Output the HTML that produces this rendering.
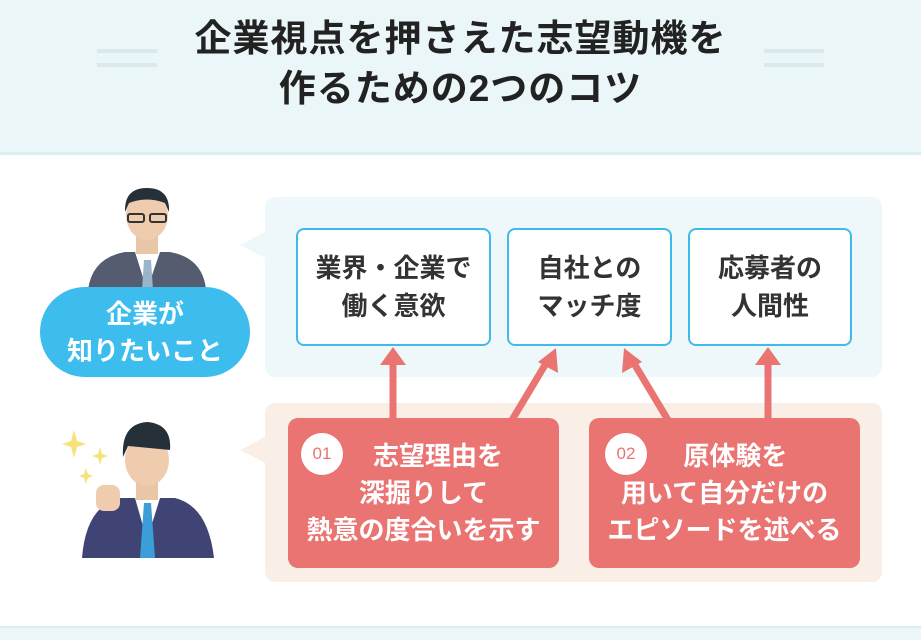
<!DOCTYPE html>
<html><head><meta charset="utf-8"><style>
body{margin:0;width:921px;height:638px;position:relative;background:#fff;font-family:"Liberation Sans","Noto Sans CJK JP",sans-serif;overflow:hidden}
.a{position:absolute}
.t{position:absolute;left:0;width:921px;text-align:center;font-weight:bold;font-size:37px;letter-spacing:1px;color:#222;line-height:50px}
.bb{position:absolute;background:#fff;border:2.5px solid #3ebbe9;border-radius:8px;box-sizing:border-box;display:flex;align-items:center;justify-content:center;text-align:center;font-weight:bold;font-size:26px;line-height:38px;color:#333}
.rb{position:absolute;background:#e97472;border-radius:10px;color:#fff;font-weight:bold;font-size:26px;line-height:37px;text-align:center;box-sizing:border-box;padding-top:20px}
.num{position:absolute;width:42px;height:42px;border-radius:50%;background:#fff;color:#e97472;font-size:17px;line-height:42px;text-align:center;font-weight:normal}
</style></head><body>
<div class="a" style="left:0;top:0;width:921px;height:152px;background:#eaf6f8;border-bottom:3px solid #dcefef"></div>
<div class="a" style="left:0;top:626px;width:921px;height:12px;background:#eaf6f8;border-top:2px solid #dcefef"></div>
<div class="a" style="left:97px;top:49px;width:60px;height:4px;background:#dbe9ee"></div>
<div class="a" style="left:97px;top:63px;width:60px;height:4px;background:#dbe9ee"></div>
<div class="a" style="left:764px;top:49px;width:60px;height:4px;background:#dbe9ee"></div>
<div class="a" style="left:764px;top:63px;width:60px;height:4px;background:#dbe9ee"></div>
<div class="t" style="top:14px">企業視点を押さえた志望動機を</div>
<div class="t" style="top:64px">作るための2つのコツ</div>
<svg class="a" style="left:0;top:0" width="921" height="638">
<rect x="265" y="197" width="617" height="180" rx="10" fill="#eef8fb"/>
<polygon points="265,232 240,245 265,258" fill="#eef8fb"/>
<rect x="265" y="403" width="617" height="179" rx="10" fill="#f9efe6"/>
<polygon points="265,437 240,450 265,463" fill="#f9efe6"/>
<g stroke="#e97472" stroke-width="7" fill="none">
<line x1="393" y1="420" x2="393" y2="362"/>
<line x1="768" y1="420" x2="768" y2="362"/>
<line x1="512" y1="420" x2="548" y2="360"/>
<line x1="668" y1="420" x2="632" y2="360"/>
</g>
<g fill="#e97472">
<polygon points="380,365 406,365 393,347"/>
<polygon points="755,365 781,365 768,347"/>
<polygon points="538,362 558,373 556,348"/>
<polygon points="642,362 622,373 624,348"/>
</g>
<path d="M88 290 Q92 258 125 252 L170 252 Q203 258 206 290 Z" fill="#555c70"/>
<polygon points="135,252 160,252 147,290" fill="#fff"/>
<polygon points="144,260 151,260 153,290 142,290" fill="#9bb5c8"/>
<rect x="136" y="232" width="22" height="22" fill="#eac6a8"/>
<ellipse cx="147" cy="215" rx="21" ry="25" fill="#f0ccae"/>
<path d="M125 212 Q124 188 147 188 Q170 188 169 212 L165 203 Q147 196 129 203 Z" fill="#263038"/>
<rect x="128" y="214" width="16" height="8" rx="2" fill="none" stroke="#333" stroke-width="2"/>
<rect x="150" y="214" width="16" height="8" rx="2" fill="none" stroke="#333" stroke-width="2"/>
<rect x="40" y="287" width="210" height="90" rx="45" fill="#3cbdee"/>
<path d="M82 558 Q86 506 120 498 L175 498 Q208 506 214 558 Z" fill="#3f4474"/>
<polygon points="135,498 160,498 147,540" fill="#fff"/>
<polygon points="144,503 151,503 155,558 140,558" fill="#3b9ed9"/>
<rect x="136" y="478" width="22" height="22" fill="#eac6a8"/>
<ellipse cx="147" cy="460" rx="22" ry="26" fill="#f0ccae"/>
<path d="M123 457 Q121 424 147 422 Q172 424 170 450 Q150 448 128 446 Z" fill="#263038"/>
<rect x="96" y="485" width="24" height="26" rx="8" fill="#f0ccae"/>
<g fill="#f5e27a">
<path d="M74 430 L77 441 L86 444 L77 447 L74 458 L71 447 L62 444 L71 441Z"/>
<path d="M100 447 L102 454 L108 456 L102 458 L100 465 L98 458 L92 456 L98 454Z"/>
<path d="M86 468 L88 474 L93 476 L88 478 L86 484 L84 478 L79 476 L84 474Z"/>
</g>
</svg>
<div class="a" style="left:40px;top:296px;width:210px;text-align:center;color:#fff;font-weight:bold;font-size:26px;line-height:37px">企業が<br>知りたいこと</div>
<div class="bb" style="left:296px;top:228px;width:195px;height:118px">業界・企業で<br>働く意欲</div>
<div class="bb" style="left:507px;top:228px;width:165px;height:118px">自社との<br>マッチ度</div>
<div class="bb" style="left:688px;top:228px;width:164px;height:118px">応募者の<br>人間性</div>
<div class="rb" style="left:288px;top:418px;width:271px;height:150px">&nbsp;&nbsp;&nbsp;&nbsp;志望理由を<br>深掘りして<br>熱意の度合いを示す<div class="num" style="left:13px;top:15px">01</div></div>
<div class="rb" style="left:589px;top:418px;width:271px;height:150px">&nbsp;&nbsp;&nbsp;原体験を<br>用いて自分だけの<br>エピソードを述べる<div class="num" style="left:16px;top:15px">02</div></div>
</body></html>
